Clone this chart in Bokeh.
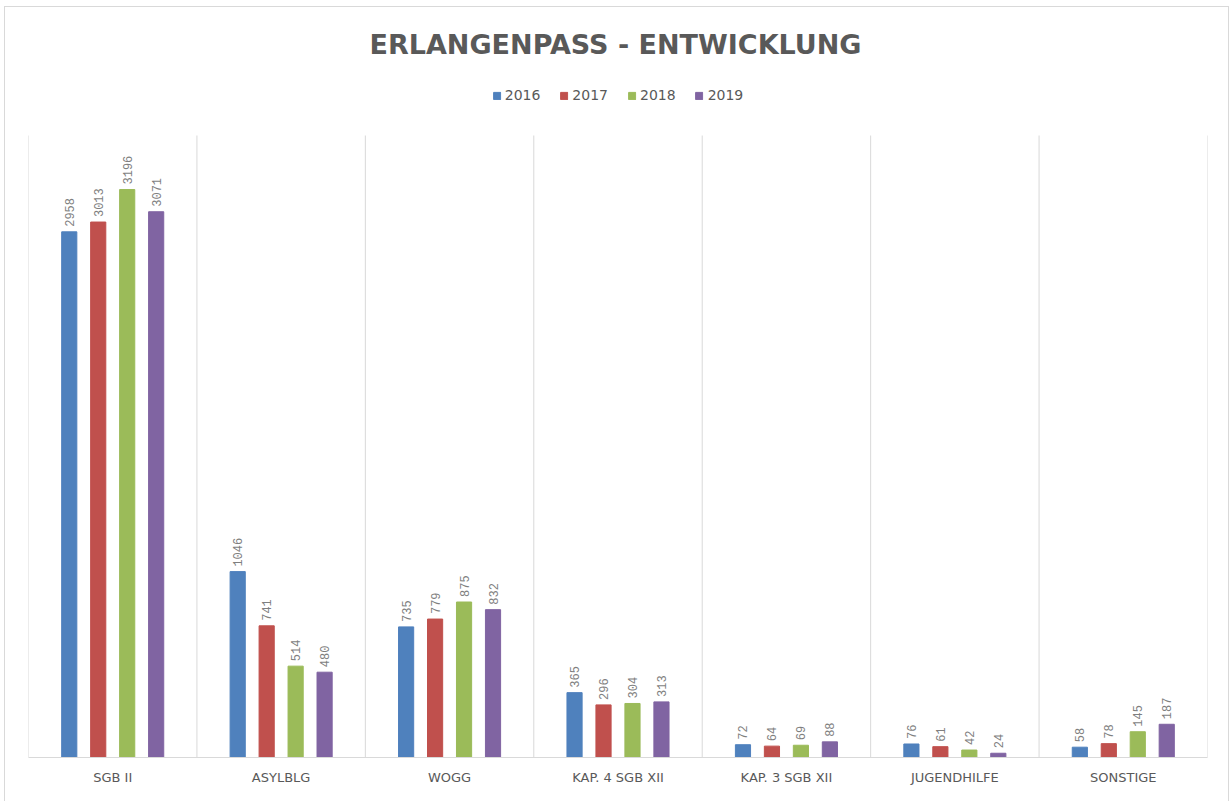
import math
from bokeh.plotting import figure
from bokeh.models import (ColumnDataSource, Legend, LegendItem, Label, FixedTicker,
                          Range1d, LinearAxis)
from bokeh.embed import file_html
from bokeh.resources import INLINE
from bokeh.core.properties import value

categories = ["SGB II", "ASYLBLG", "WOGG", "KAP. 4 SGB XII", "KAP. 3 SGB XII", "JUGENDHILFE", "SONSTIGE"]
years = ["2016", "2017", "2018", "2019"]
v2016 = [2958, 1046, 735, 365, 72, 76, 58]
v2017 = [3013, 741, 779, 296, 64, 61, 78]
v2018 = [3196, 514, 875, 304, 69, 42, 145]
v2019 = [3071, 480, 832, 313, 88, 24, 187]
series = [v2016, v2017, v2018, v2019]
colors = ["#4F81BD", "#C0504D", "#9BBB59", "#8064A2"]
offsets = [-0.258, -0.086, 0.086, 0.258]
Y_MAX = 3500

# layout (pixels)
W, H = 1223, 794
FRAME_L, FRAME_R, FRAME_B = 23, 21, 44
FRAME_H = H - FRAME_B          # frame spans from top of canvas
PLOT_TOP = 128                 # pixel row where Y_MAX sits
y_end = Y_MAX * FRAME_H / (FRAME_H - PLOT_TOP)

p = figure(width=W, height=H, output_backend="svg", toolbar_location=None,
           x_range=Range1d(0, len(categories)), y_range=Range1d(0, y_end),
           min_border_left=FRAME_L, min_border_right=FRAME_R, min_border_top=0,
           min_border_bottom=FRAME_B,
           x_axis_location=None, y_axis_location=None, title=None)
p.styles = {"margin-left": "5px", "margin-top": "7px", "outline": "1px solid #d9d9d9"}
p.outline_line_color = None
p.background_fill_color = "white"
p.border_fill_color = "white"
p.xgrid.grid_line_color = None
p.ygrid.grid_line_color = None

xaxis = LinearAxis(ticker=FixedTicker(ticks=[i + 0.5 for i in range(len(categories))]),
                   major_label_overrides={i + 0.5: c for i, c in enumerate(categories)})
xaxis.axis_line_color = "#d9d9d9"
xaxis.axis_line_width = 1
xaxis.major_tick_line_color = None
xaxis.minor_tick_line_color = None
xaxis.major_label_standoff = 6
xaxis.major_label_text_font = "DejaVu Sans"
xaxis.major_label_text_font_size = "13px"
xaxis.major_label_text_color = "#595959"
p.add_layout(xaxis, "below")

# vertical separators between categories
bounds = list(range(len(categories) + 1))
p.segment(x0=bounds, x1=bounds, y0=[0] * len(bounds), y1=[Y_MAX] * len(bounds),
          line_color="#d9d9d9", line_width=1)

items = []
for vals, col, off, yr in zip(series, colors, offsets, years):
    src = ColumnDataSource(dict(x=[i + 0.5 + off for i in range(len(categories))], top=vals,
                                lab=[str(v) for v in vals]))
    r = p.vbar(x="x", top="top", bottom=0, width=0.09, source=src,
               fill_color=col, line_color=col)
    p.text(x="x", y="top", text="lab", source=src, angle=math.pi / 2,
           text_align="left", text_baseline="middle", y_offset=-5,
           text_font=value("Liberation Mono"), text_font_size="12px",
           text_color="#7f7f7f")
    items.append(LegendItem(label=yr, renderers=[r]))

legend = Legend(items=items, orientation="horizontal", location="top_center",
                label_text_font="DejaVu Sans", label_text_font_size="14px",
                label_text_color="#595959", glyph_width=9, glyph_height=9,
                label_standoff=4, spacing=19, padding=2, margin=80,
                border_line_color=None, background_fill_alpha=0)
p.add_layout(legend, "center")

title = Label(x=587, y=FRAME_H - 37, x_units="screen", y_units="screen",
              text="ERLANGENPASS - ENTWICKLUNG", text_align="center",
              text_baseline="middle", text_font="DejaVu Sans", text_font_size="27px",
              text_font_style="bold", text_color="#595959")
p.add_layout(title)

open("out.html", "w").write(file_html(p, INLINE))
